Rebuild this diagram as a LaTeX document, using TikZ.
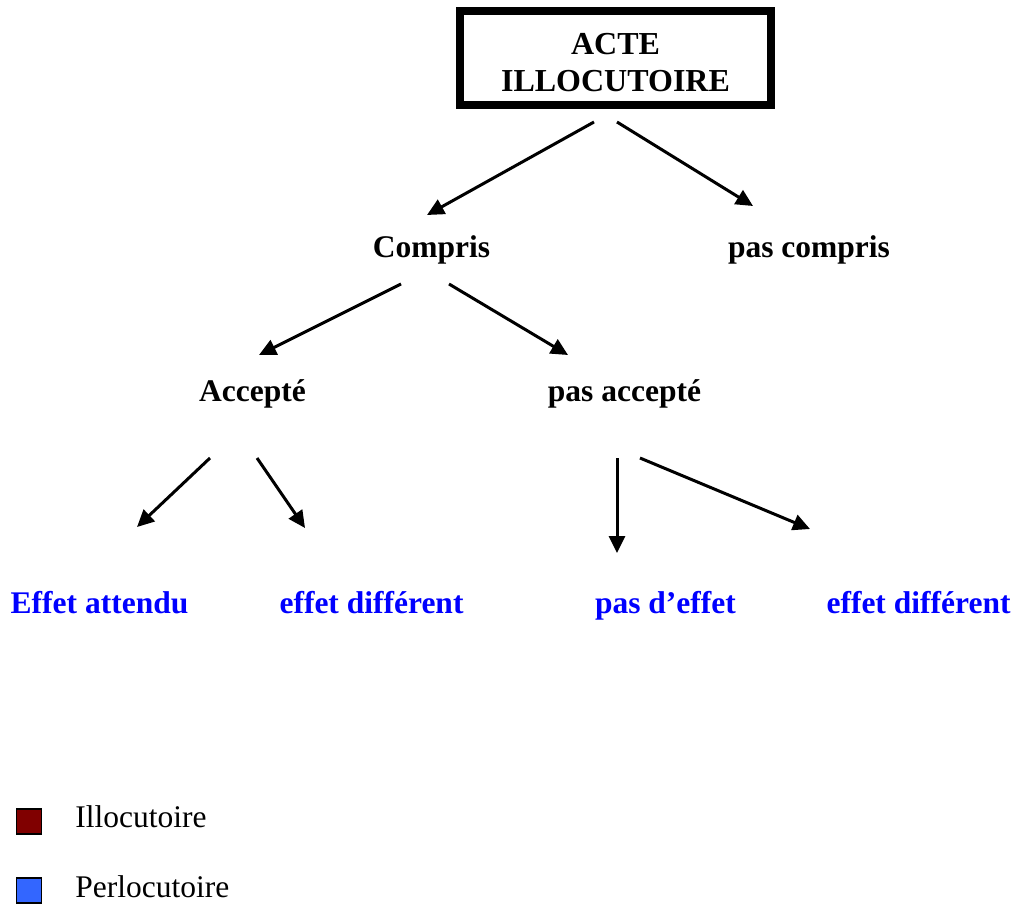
\documentclass[tikz,border=0pt]{standalone}
\usepackage{fontspec}
\setmainfont{Liberation Serif}
\usetikzlibrary{calc,arrows.meta}
\definecolor{perlo}{RGB}{0,0,255}
\definecolor{illocbox}{RGB}{128,0,0}
\definecolor{perlobox}{RGB}{51,102,255}
\begin{document}
\begin{tikzpicture}[x=0.5pt,y=-0.5pt,
  lbl/.style={anchor=base,inner sep=0pt,font=\fontsize{15.75}{18.25}\selectfont\bfseries},
  eff/.style={lbl,text=perlo},
  arr/.style={line width=1.5pt,-{Triangle[length=8.5pt,width=8pt]}},
  mainbox/.style={draw,line width=4pt,minimum width=155.5pt,minimum height=47pt,inner sep=0pt},
  legbox/.style={draw,line width=0.8pt,minimum size=12.5pt,inner sep=0pt},
  legtxt/.style={anchor=base west,inner sep=0pt,font=\fontsize{15.75}{18.25}\selectfont}]
\useasboundingbox (0,0) rectangle (1015,905);

% top box
\node[mainbox] (acte) at (615.5,58) {};
\node[align=center,inner sep=0pt,font=\fontsize{16}{18.25}\selectfont\bfseries]
  (actetxt) at (615.5,62.6) {ACTE\\ILLOCUTOIRE};

% tree labels
\node[lbl] (compris) at (431.5,257) {Compris};
\node[lbl] (pascompris) at (809,257) {pas compris};
\node[lbl] (accepte) at (252.5,401) {Accepté};
\node[lbl] (pasaccepte) at (624.5,401) {pas accepté};
\node[eff] (attendu) at (99.5,613) {Effet attendu};
\node[eff] (diffA) at (371.5,613) {effet différent};
\node[eff] (pasdeffet) at (665.5,613) {pas d’effet};
\node[eff] (diffB) at (918.5,613) {effet différent};

% connectors
\draw[arr] ($(acte)+(-21.5,64)$) -- ($(compris.base)+(-4.5,-42)$);
\draw[arr] ($(acte)+(1.5,64)$) -- ($(pascompris.base)+(-56,-51)$);
\draw[arr] ($(compris.base)+(-30.5,27)$) -- ($(accepte.base)+(6.5,-46)$);
\draw[arr] ($(compris.base)+(17.5,27)$) -- ($(pasaccepte.base)+(-56.5,-46)$);
\draw[arr] ($(accepte.base)+(-42.5,57)$) -- ($(attendu.base)+(37.5,-86)$);
\draw[arr] ($(accepte.base)+(4.5,57)$) -- ($(diffA.base)+(-66.5,-85)$);
\draw[arr] ($(pasaccepte.base)+(-7.5,57)$) -- ($(pasdeffet.base)+(-48.5,-60)$);
\draw[arr] ($(pasaccepte.base)+(15.5,57)$) -- ($(diffB.base)+(-108.5,-84)$);

% legend
\node[legbox,fill=illocbox] (keyillo) at (29,821.5) {};
\node[legtxt] (keyillotxt) at (75,827) {Illocutoire};
\node[legbox,fill=perlobox] (keyperlo) at (29,890.5) {};
\node[legtxt] (keyperlotxt) at (75,897) {Perlocutoire};
\end{tikzpicture}
\end{document}
